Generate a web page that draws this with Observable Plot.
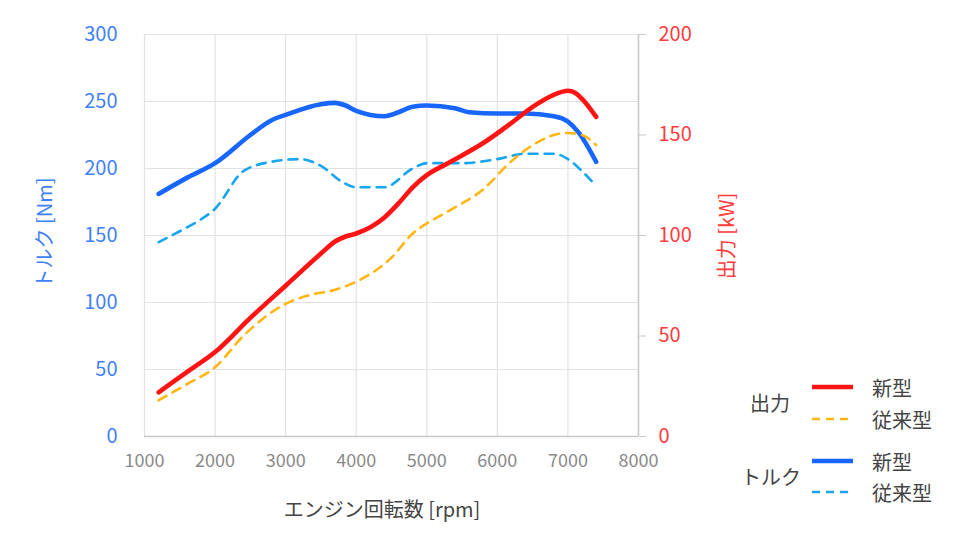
<!DOCTYPE html>
<html>
<head>
<meta charset="utf-8">
<script src="https://cdn.jsdelivr.net/npm/d3@7"></script>
<script src="https://cdn.jsdelivr.net/npm/@observablehq/plot@0.6"></script>
<style>
  html, body { margin: 0; padding: 0; background: #fff; }
  #wrap { position: relative; width: 960px; height: 546px; overflow: hidden; font-family: "Noto Sans CJK JP", "Noto Sans", sans-serif; }
  #wrap svg { position: absolute; left: 0; top: 0; }
  .lbl { position: absolute; white-space: nowrap; color: #444; font-size: 20px; }
  .rot { transform: translate(-50%, -50%) rotate(-90deg); font-size: 20px; }
</style>
</head>
<body>
<div id="wrap"></div>
<script>
// X ticks (rpm)
const rpmTicks = [1000, 2000, 3000, 4000, 5000, 6000, 7000, 8000];
const torqueTicks = [0, 50, 100, 150, 200, 250, 300];
const powerTicks = [0, 50, 100, 150, 200];

// Torque, new model [Nm]
const torqueNewRpm = [1200, 1600, 2000, 2500, 2800, 3000, 3500, 3700, 3850, 4000, 4400, 4600, 4800, 5000, 5400, 5600, 6000, 6400, 6800, 7000, 7150, 7400];
const torqueNew    = [181, 193, 204, 225, 236, 240, 248, 249, 247, 243, 239, 242, 246, 247, 245, 242, 241, 241, 239, 235, 227, 205];

// Torque, previous model [Nm]
const torqueOldRpm = [1200, 1600, 1800, 2000, 2400, 2800, 3200, 3500, 3800, 4000, 4400, 4800, 5000, 5500, 6000, 6400, 6800, 7000, 7200, 7400];
const torqueOld    = [145, 156, 162, 170, 198, 205, 207, 202, 190, 186, 186, 200, 204, 204, 207, 211, 211, 207, 198, 187];

// Power, new model [kW]
const powerNewRpm = [1200, 1600, 2000, 2500, 3000, 3500, 3700, 3850, 4000, 4400, 4600, 4800, 5000, 5300, 5800, 6200, 6500, 6800, 7000, 7100, 7200, 7400];
const powerNew    = [22, 32, 42, 59, 75, 91, 97, 99.5, 101, 109, 116, 124, 130, 136, 146, 156, 164, 170, 172, 171, 168, 159];

// Power, previous model [kW]
const powerOldRpm = [1200, 1600, 2000, 2400, 3000, 3300, 3700, 4000, 4500, 4800, 5000, 5300, 5800, 6200, 6600, 6800, 7000, 7200, 7400];
const powerOld    = [18, 26, 34.5, 50, 66, 70, 73, 77, 89, 101, 106, 112, 123, 137, 147, 150, 151, 150, 145];

const C = { red: "#ff1414", yellow: "#ffb612", blue: "#1766ff", lblue: "#18a6f0", grid: "#e2e2e2", axis: "#c8c8c8" };

const toRows = (xs, ys) => xs.map((x, i) => ({ rpm: x, v: ys[i] }));

const common = {
  width: 960, height: 546,
  marginLeft: 144, marginRight: 322, marginTop: 34, marginBottom: 110,
  style: { background: "transparent", fontFamily: "\"Noto Sans CJK JP\", \"Noto Sans\", sans-serif", fontSize: "17px", overflow: "visible" }
};

const torquePlot = Plot.plot({
  ...common,
  x: { domain: [1000, 8000] },
  y: { domain: [0, 300] },
  marks: [
    Plot.gridX(rpmTicks, { stroke: C.grid, strokeOpacity: 1, strokeWidth: 1.2 }),
    Plot.gridY(torqueTicks, { stroke: C.grid, strokeOpacity: 1, strokeWidth: 1.2 }),
    Plot.ruleY([0], { stroke: C.axis, strokeWidth: 1.5 }),
    Plot.ruleX([8000], { stroke: C.axis, strokeWidth: 1.5 }),
    Plot.axisX(rpmTicks, { tickSize: 0, tickPadding: 18, fill: "#8a8a8a", label: null, fontSize: 18, tickFormat: d => String(d) }),
    Plot.axisY(torqueTicks, { anchor: "left", tickSize: 0, tickPadding: 27, fill: "#3f7ff7", label: null, fontSize: 20, tickFormat: d => String(d) }),
    Plot.line(toRows(torqueOldRpm, torqueOld), { x: "rpm", y: "v", stroke: C.lblue, strokeWidth: 2.6, strokeDasharray: "9,7", curve: "monotone-x" }),
    Plot.line(toRows(torqueNewRpm, torqueNew), { x: "rpm", y: "v", stroke: C.blue, strokeWidth: 4.6, curve: "monotone-x" })
  ]
});

const powerPlot = Plot.plot({
  ...common,
  x: { domain: [1000, 8000], axis: null },
  y: { domain: [0, 200], axis: null },
  marks: [
    Plot.axisY(powerTicks, { anchor: "right", tickSize: 7, tickPadding: 13, stroke: C.axis, fill: "#ff3b3b", label: null, fontSize: 20, tickFormat: d => String(d) }),
    Plot.line(toRows(powerOldRpm, powerOld), { x: "rpm", y: "v", stroke: C.yellow, strokeWidth: 2.6, strokeDasharray: "9,7", curve: "monotone-x" }),
    Plot.line(toRows(powerNewRpm, powerNew), { x: "rpm", y: "v", stroke: C.red, strokeWidth: 4.6, curve: "monotone-x" })
  ]
});

const wrap = document.getElementById("wrap");
wrap.appendChild(torquePlot);
wrap.appendChild(powerPlot);

function addLabel(text, css, cls) {
  const d = document.createElement("div");
  d.className = "lbl" + (cls ? " " + cls : "");
  d.textContent = text;
  Object.assign(d.style, css);
  wrap.appendChild(d);
  return d;
}
addLabel("トルク [Nm]", { left: "43px", top: "233px", color: "#3f7ff7" }, "rot");
addLabel("出力 [kW]", { left: "725px", top: "236px", color: "#ff3b3b" }, "rot");
addLabel("エンジン回転数 [rpm]", { left: "382px", top: "508px", transform: "translate(-50%, -50%)", color: "#444" });

// Legend
const legendGroups = [
  { name: "出力", y: 402, items: [{ t: "新型", c: C.red, dash: false, y: 387 }, { t: "従来型", c: C.yellow, dash: true, y: 419 }] },
  { name: "トルク", y: 476, items: [{ t: "新型", c: C.blue, dash: false, y: 461 }, { t: "従来型", c: C.lblue, dash: true, y: 492 }] }
];
const ns = "http://www.w3.org/2000/svg";
const lsvg = document.createElementNS(ns, "svg");
lsvg.setAttribute("width", 960); lsvg.setAttribute("height", 546);
lsvg.style.pointerEvents = "none";
wrap.appendChild(lsvg);
legendGroups.forEach(g => {
  addLabel(g.name, { left: (g.name === "出力" ? 770 : 771) + "px", top: g.y + "px", transform: "translate(-50%, -50%)" });
  g.items.forEach(it => {
    const ln = document.createElementNS(ns, "line");
    ln.setAttribute("x1", 812); ln.setAttribute("x2", 853);
    ln.setAttribute("y1", it.y); ln.setAttribute("y2", it.y);
    ln.setAttribute("stroke", it.c);
    ln.setAttribute("stroke-width", it.dash ? 2.6 : 4.6);
    if (it.dash) ln.setAttribute("stroke-dasharray", "8,6");
    lsvg.appendChild(ln);
    addLabel(it.t, { left: "872px", top: it.y + "px", transform: "translate(0, -50%)" });
  });
});
</script>
</body>
</html>
